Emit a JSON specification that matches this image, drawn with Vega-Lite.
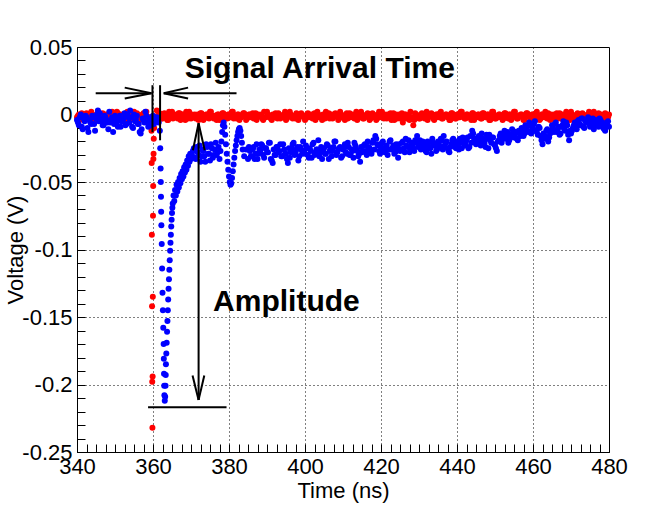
{
  "$schema": "https://vega.github.io/schema/vega-lite/v6.json",
  "width": 532,
  "height": 405,
  "autosize": "none",
  "padding": {"left": 77, "top": 47, "right": 55, "bottom": 55},
  "background": "white",
  "config": {
    "font": "Liberation Sans",
    "view": {"stroke": "#000", "strokeWidth": 1},
    "axis": {
      "labelFont": "Liberation Sans",
      "titleFont": "Liberation Sans",
      "labelFontSize": 22,
      "titleFontSize": 22,
      "titleFontWeight": "normal",
      "labelColor": "#000",
      "titleColor": "#000",
      "domainColor": "#000",
      "tickColor": "#000",
      "gridColor": "#000",
      "gridDash": [1, 3],
      "gridWidth": 1,
      "labelOverlap": false,
      "labelFlush": false,
      "labelBound": false
    }
  },
  "datasets": {
    "red": [
      {"t":340,"v":-0.002},{"t":340.5,"v":0},{"t":341,"v":-0.003},{"t":341.5,"v":-0.001},{"t":342,"v":-0.004},{"t":342.5,"v":0.001},{"t":343,"v":-0.002},{"t":343.5,"v":-0.003},{"t":344,"v":0},{"t":344.5,"v":-0.001},
      {"t":345,"v":-0.004},{"t":345.5,"v":0.002},{"t":346,"v":-0.002},{"t":346.5,"v":-0.001},{"t":347,"v":-0.003},{"t":347.5,"v":0},{"t":348,"v":-0.002},{"t":348.5,"v":0.001},{"t":349,"v":-0.004},{"t":349.5,"v":-0.001},
      {"t":350,"v":-0.002},{"t":350.5,"v":0.002},{"t":351,"v":-0.003},{"t":351.5,"v":0},{"t":352,"v":-0.001},{"t":352.5,"v":-0.004},{"t":353,"v":0.001},{"t":353.5,"v":-0.002},{"t":354,"v":-0.001},{"t":354.5,"v":-0.003},
      {"t":355,"v":0.002},{"t":355.5,"v":-0.002},{"t":356,"v":0},{"t":356.5,"v":-0.004},{"t":357,"v":-0.001},{"t":357.5,"v":0.001},{"t":358,"v":-0.003},{"t":358.5,"v":-0.002},{"t":359,"v":-0.006},{"t":359.4,"v":-0.005},
      {"t":359.6,"v":-0.012},{"t":359.65,"v":-0.036},{"t":359.7,"v":-0.089},{"t":359.75,"v":-0.142},{"t":359.8,"v":-0.198},{"t":359.85,"v":-0.232},{"t":359.9,"v":-0.194},{"t":359.95,"v":-0.135},{"t":360,"v":-0.075},{"t":360.05,"v":-0.053},
      {"t":360.1,"v":-0.033},{"t":360.15,"v":-0.029},{"t":360.2,"v":-0.018},{"t":360.3,"v":-0.01},{"t":360.5,"v":-0.004},
      {"t":361,"v":0.003},{"t":361.5,"v":-0.002},{"t":362,"v":0},{"t":362.5,"v":-0.003},{"t":363,"v":0.001},{"t":363.5,"v":-0.001},{"t":364,"v":-0.004},{"t":364.5,"v":0},{"t":365,"v":0.002},{"t":365.5,"v":-0.002},
      {"t":366,"v":-0.001},{"t":366.5,"v":-0.003},{"t":367,"v":0.001},{"t":367.5,"v":-0.002},{"t":368,"v":0},{"t":368.5,"v":-0.004},{"t":369,"v":-0.001},{"t":369.5,"v":0.002},{"t":370,"v":-0.003},{"t":370.5,"v":-0.001},
      {"t":371,"v":0},{"t":371.5,"v":-0.002},{"t":372,"v":-0.004},{"t":372.5,"v":0.001},{"t":373,"v":-0.001},{"t":373.5,"v":-0.003},{"t":374,"v":0},{"t":374.5,"v":-0.002},{"t":375,"v":0.002},{"t":375.5,"v":-0.001},
      {"t":376,"v":-0.003},{"t":376.5,"v":-0.001},{"t":377,"v":0},{"t":377.5,"v":-0.004},{"t":378,"v":-0.002},{"t":378.5,"v":0.001},{"t":379,"v":-0.001},{"t":379.5,"v":-0.003},{"t":380,"v":0},{"t":380.5,"v":-0.002},
      {"t":381,"v":0.002},{"t":381.5,"v":-0.001},{"t":382,"v":-0.003},{"t":382.5,"v":0},{"t":383,"v":-0.002},{"t":383.5,"v":-0.001},{"t":384,"v":0.001},{"t":384.5,"v":-0.004},{"t":385,"v":-0.002},{"t":385.5,"v":0},
      {"t":386,"v":-0.001},{"t":386.5,"v":-0.003},{"t":387,"v":0.001},{"t":387.5,"v":-0.002},{"t":388,"v":-0.001},{"t":388.5,"v":0},{"t":389,"v":-0.004},{"t":389.5,"v":-0.002},{"t":390,"v":0.002},{"t":390.5,"v":-0.001},
      {"t":391,"v":-0.003},{"t":391.5,"v":0},{"t":392,"v":-0.002},{"t":392.5,"v":-0.001},{"t":393,"v":0.001},{"t":393.5,"v":-0.003},{"t":394,"v":-0.002},{"t":394.5,"v":0},{"t":395,"v":-0.004},{"t":395.5,"v":-0.001},
      {"t":396,"v":0.002},{"t":396.5,"v":-0.002},{"t":397,"v":-0.001},{"t":397.5,"v":-0.003},{"t":398,"v":0},{"t":398.5,"v":-0.002},{"t":399,"v":0.001},{"t":399.5,"v":-0.001},{"t":400,"v":-0.004},{"t":400.5,"v":-0.002},
      {"t":401,"v":0},{"t":401.5,"v":-0.001},{"t":402,"v":-0.003},{"t":402.5,"v":0.001},{"t":403,"v":-0.002},{"t":403.5,"v":0},{"t":404,"v":-0.001},{"t":404.5,"v":-0.004},{"t":405,"v":-0.002},{"t":405.5,"v":0.002},
      {"t":406,"v":-0.001},{"t":406.5,"v":-0.003},{"t":407,"v":0},{"t":407.5,"v":-0.002},{"t":408,"v":0.001},{"t":408.5,"v":-0.001},{"t":409,"v":-0.003},{"t":409.5,"v":0},{"t":410,"v":-0.002},{"t":410.5,"v":-0.004},
      {"t":411,"v":0.001},{"t":411.5,"v":-0.001},{"t":412,"v":-0.002},{"t":412.5,"v":0},{"t":413,"v":-0.003},{"t":413.5,"v":0.002},{"t":414,"v":-0.001},{"t":414.5,"v":-0.002},{"t":415,"v":0},{"t":415.5,"v":-0.003},
      {"t":416,"v":-0.001},{"t":416.5,"v":0.001},{"t":417,"v":-0.004},{"t":417.5,"v":-0.002},{"t":418,"v":0},{"t":418.5,"v":-0.001},{"t":419,"v":-0.003},{"t":419.5,"v":0.002},{"t":420,"v":-0.002},{"t":420.5,"v":-0.001},
      {"t":421,"v":0},{"t":421.5,"v":-0.003},{"t":422,"v":-0.001},{"t":422.5,"v":0.001},{"t":423,"v":-0.002},{"t":423.5,"v":-0.004},{"t":424,"v":0},{"t":424.5,"v":-0.001},{"t":425,"v":-0.003},{"t":425.5,"v":0.001},
      {"t":426,"v":-0.002},{"t":426.5,"v":0},{"t":427,"v":-0.001},{"t":427.5,"v":-0.004},{"t":428,"v":-0.002},{"t":428.5,"v":-0.008},{"t":429,"v":0.001},{"t":429.5,"v":-0.002},{"t":430,"v":-0.003},{"t":430.5,"v":0},
      {"t":431,"v":-0.001},{"t":431.5,"v":-0.003},{"t":432,"v":0.002},{"t":432.5,"v":-0.002},{"t":433,"v":0},{"t":433.5,"v":-0.001},{"t":434,"v":-0.004},{"t":434.5,"v":0},{"t":435,"v":-0.002},{"t":435.5,"v":0.001},
      {"t":436,"v":-0.003},{"t":436.5,"v":-0.001},{"t":437,"v":0},{"t":437.5,"v":-0.002},{"t":438,"v":-0.004},{"t":438.5,"v":0.001},{"t":439,"v":-0.001},{"t":439.5,"v":-0.003},{"t":440,"v":0},{"t":440.5,"v":-0.002},
      {"t":441,"v":0.002},{"t":441.5,"v":-0.001},{"t":442,"v":-0.003},{"t":442.5,"v":0},{"t":443,"v":-0.002},{"t":443.5,"v":-0.001},{"t":444,"v":0.001},{"t":444.5,"v":-0.004},{"t":445,"v":-0.002},{"t":445.5,"v":0},
      {"t":446,"v":-0.001},{"t":446.5,"v":-0.003},{"t":447,"v":0.001},{"t":447.5,"v":-0.002},{"t":448,"v":0},{"t":448.5,"v":-0.004},{"t":449,"v":-0.001},{"t":449.5,"v":0.002},{"t":450,"v":-0.003},{"t":450.5,"v":-0.001},
      {"t":451,"v":0},{"t":451.5,"v":-0.002},{"t":452,"v":-0.004},{"t":452.5,"v":0.001},{"t":453,"v":-0.001},{"t":453.5,"v":-0.003},{"t":454,"v":0},{"t":454.5,"v":-0.002},{"t":455,"v":0.002},{"t":455.5,"v":-0.001},
      {"t":456,"v":-0.003},{"t":456.5,"v":-0.001},{"t":457,"v":0},{"t":457.5,"v":-0.004},{"t":458,"v":-0.002},{"t":458.5,"v":0.001},{"t":459,"v":-0.001},{"t":459.5,"v":-0.003},{"t":460,"v":0},{"t":460.5,"v":-0.002},
      {"t":461,"v":0.002},{"t":461.5,"v":-0.001},{"t":462,"v":-0.003},{"t":462.5,"v":0},{"t":463,"v":-0.002},{"t":463.5,"v":-0.001},{"t":464,"v":0.001},{"t":464.5,"v":-0.004},{"t":465,"v":-0.002},{"t":465.5,"v":0},
      {"t":466,"v":-0.001},{"t":466.5,"v":-0.003},{"t":467,"v":0.001},{"t":467.5,"v":-0.002},{"t":468,"v":-0.001},{"t":468.5,"v":0},{"t":469,"v":-0.004},{"t":469.5,"v":-0.002},{"t":470,"v":0.002},{"t":470.5,"v":-0.001},
      {"t":471,"v":-0.003},{"t":471.5,"v":0},{"t":472,"v":-0.002},{"t":472.5,"v":-0.001},{"t":473,"v":0.001},{"t":473.5,"v":-0.003},{"t":474,"v":-0.002},{"t":474.5,"v":0},{"t":475,"v":-0.004},{"t":475.5,"v":-0.001},
      {"t":476,"v":0.002},{"t":476.5,"v":-0.002},{"t":477,"v":-0.001},{"t":477.5,"v":-0.003},{"t":478,"v":0},{"t":478.5,"v":-0.002},{"t":479,"v":0.001},{"t":479.5,"v":-0.001},{"t":480,"v":0},
      {"t":340.25,"v":-0.001},{"t":340.75,"v":-0.004},{"t":341.25,"v":0.001},{"t":341.75,"v":-0.002},{"t":342.25,"v":-0.003},{"t":342.75,"v":0},{"t":343.25,"v":-0.001},{"t":343.75,"v":0.002},{"t":344.25,"v":-0.003},{"t":344.75,"v":-0.002},
      {"t":345.25,"v":0},{"t":345.75,"v":-0.003},{"t":346.25,"v":-0.001},{"t":346.75,"v":0.001},{"t":347.25,"v":-0.004},{"t":347.75,"v":-0.002},{"t":348.25,"v":0},{"t":348.75,"v":-0.001},{"t":349.25,"v":0.002},{"t":349.75,"v":-0.003},
      {"t":350.25,"v":-0.002},{"t":350.75,"v":0.001},{"t":351.25,"v":-0.001},{"t":351.75,"v":-0.004},{"t":352.25,"v":0},{"t":352.75,"v":-0.002},{"t":353.25,"v":0.002},{"t":353.75,"v":-0.003},{"t":354.25,"v":-0.001},{"t":354.75,"v":0},
      {"t":355.25,"v":-0.003},{"t":355.75,"v":0.001},{"t":356.25,"v":-0.002},{"t":356.75,"v":-0.001},{"t":357.25,"v":0},{"t":357.75,"v":-0.004},{"t":358.25,"v":0.002},{"t":358.75,"v":-0.002},
      {"t":361.25,"v":-0.001},{"t":361.75,"v":0.001},{"t":362.25,"v":-0.003},{"t":362.75,"v":-0.002},{"t":363.25,"v":0},{"t":363.75,"v":-0.004},{"t":364.25,"v":0.002},{"t":364.75,"v":-0.001},{"t":365.25,"v":-0.003},{"t":365.75,"v":0},
      {"t":366.25,"v":-0.002},{"t":366.75,"v":0.001},{"t":367.25,"v":-0.004},{"t":367.75,"v":0},{"t":368.25,"v":-0.001},{"t":368.75,"v":0.002},{"t":369.25,"v":-0.003},{"t":369.75,"v":-0.002},{"t":370.25,"v":0},{"t":370.75,"v":-0.001},
      {"t":371.25,"v":-0.003},{"t":371.75,"v":0},{"t":372.25,"v":-0.002},{"t":372.75,"v":0.001},{"t":373.25,"v":-0.004},{"t":373.75,"v":-0.001},{"t":374.25,"v":0},{"t":374.75,"v":-0.003},{"t":375.25,"v":0.002},{"t":375.75,"v":-0.002},
      {"t":376.25,"v":-0.001},{"t":376.75,"v":-0.004},{"t":377.25,"v":0},{"t":377.75,"v":-0.002},{"t":378.25,"v":0.001},{"t":378.75,"v":-0.003},{"t":379.25,"v":-0.001},{"t":379.75,"v":0},{"t":380.25,"v":-0.002},{"t":380.75,"v":0.002},
      {"t":381.25,"v":-0.003},{"t":381.75,"v":-0.001},{"t":382.25,"v":0},{"t":382.75,"v":-0.004},{"t":383.25,"v":-0.002},{"t":383.75,"v":0.001},{"t":384.25,"v":-0.001},{"t":384.75,"v":-0.003},{"t":385.25,"v":0},{"t":385.75,"v":-0.002},
      {"t":386.25,"v":0.001},{"t":386.75,"v":-0.002},{"t":387.25,"v":-0.004},{"t":387.75,"v":0},{"t":388.25,"v":-0.001},{"t":388.75,"v":-0.003},{"t":389.25,"v":0.002},{"t":389.75,"v":-0.002},{"t":390.25,"v":0},{"t":390.75,"v":-0.001},
      {"t":391.25,"v":-0.004},{"t":391.75,"v":-0.001},{"t":392.25,"v":0.001},{"t":392.75,"v":-0.003},{"t":393.25,"v":0},{"t":393.75,"v":-0.002},{"t":394.25,"v":-0.001},{"t":394.75,"v":0.002},{"t":395.25,"v":-0.003},{"t":395.75,"v":-0.001},
      {"t":396.25,"v":0},{"t":396.75,"v":-0.003},{"t":397.25,"v":-0.002},{"t":397.75,"v":0.001},{"t":398.25,"v":-0.004},{"t":398.75,"v":-0.001},{"t":399.25,"v":0},{"t":399.75,"v":-0.002},{"t":400.25,"v":-0.003},{"t":400.75,"v":0.001},
      {"t":401.25,"v":-0.002},{"t":401.75,"v":0},{"t":402.25,"v":-0.001},{"t":402.75,"v":-0.004},{"t":403.25,"v":0.002},{"t":403.75,"v":-0.002},{"t":404.25,"v":-0.001},{"t":404.75,"v":0},{"t":405.25,"v":-0.003},{"t":405.75,"v":-0.001},
      {"t":406.25,"v":0.001},{"t":406.75,"v":-0.002},{"t":407.25,"v":-0.003},{"t":407.75,"v":0},{"t":408.25,"v":-0.001},{"t":408.75,"v":-0.004},{"t":409.25,"v":0.002},{"t":409.75,"v":-0.001},{"t":410.25,"v":-0.002},{"t":410.75,"v":0},
      {"t":411.25,"v":-0.003},{"t":411.75,"v":0.001},{"t":412.25,"v":-0.001},{"t":412.75,"v":-0.002},{"t":413.25,"v":0},{"t":413.75,"v":-0.004},{"t":414.25,"v":-0.001},{"t":414.75,"v":0.002},{"t":415.25,"v":-0.003},{"t":415.75,"v":-0.002},
      {"t":416.25,"v":0},{"t":416.75,"v":-0.001},{"t":417.25,"v":-0.003},{"t":417.75,"v":0.001},{"t":418.25,"v":-0.002},{"t":418.75,"v":-0.004},{"t":419.25,"v":0},{"t":419.75,"v":-0.001},{"t":420.25,"v":0.002},{"t":420.75,"v":-0.003},
      {"t":421.25,"v":-0.001},{"t":421.75,"v":0},{"t":422.25,"v":-0.002},{"t":422.75,"v":-0.004},{"t":423.25,"v":0.001},{"t":423.75,"v":-0.001},{"t":424.25,"v":-0.003},{"t":424.75,"v":0},{"t":425.25,"v":-0.002},{"t":425.75,"v":-0.006},
      {"t":426.25,"v":0},{"t":426.75,"v":-0.003},{"t":427.25,"v":-0.001},{"t":427.75,"v":0.002},{"t":428.25,"v":-0.002},{"t":428.75,"v":-0.004},{"t":429.25,"v":0},{"t":429.75,"v":-0.001},{"t":430.25,"v":-0.003},{"t":430.75,"v":0.001},
      {"t":431.25,"v":-0.002},{"t":431.75,"v":0},{"t":432.25,"v":-0.004},{"t":432.75,"v":-0.001},{"t":433.25,"v":0.001},{"t":433.75,"v":-0.003},{"t":434.25,"v":-0.002},{"t":434.75,"v":0},{"t":435.25,"v":-0.001},{"t":435.75,"v":0.002},
      {"t":436.25,"v":-0.003},{"t":436.75,"v":-0.001},{"t":437.25,"v":0},{"t":437.75,"v":-0.002},{"t":438.25,"v":-0.004},{"t":438.75,"v":0.001},{"t":439.25,"v":-0.001},{"t":439.75,"v":-0.003},{"t":440.25,"v":0},{"t":440.75,"v":-0.002},
      {"t":441.25,"v":0.002},{"t":441.75,"v":-0.001},{"t":442.25,"v":-0.003},{"t":442.75,"v":0},{"t":443.25,"v":-0.002},{"t":443.75,"v":-0.004},{"t":444.25,"v":0.001},{"t":444.75,"v":-0.001},{"t":445.25,"v":-0.002},{"t":445.75,"v":0},
      {"t":446.25,"v":-0.003},{"t":446.75,"v":0.001},{"t":447.25,"v":-0.001},{"t":447.75,"v":-0.002},{"t":448.25,"v":0},{"t":448.75,"v":-0.004},{"t":449.25,"v":0.002},{"t":449.75,"v":-0.001},{"t":450.25,"v":-0.003},{"t":450.75,"v":-0.002},
      {"t":451.25,"v":0},{"t":451.75,"v":-0.001},{"t":452.25,"v":-0.003},{"t":452.75,"v":0.001},{"t":453.25,"v":-0.002},{"t":453.75,"v":0},{"t":454.25,"v":-0.004},{"t":454.75,"v":-0.001},{"t":455.25,"v":0.002},{"t":455.75,"v":-0.003},
      {"t":456.25,"v":-0.001},{"t":456.75,"v":0},{"t":457.25,"v":-0.002},{"t":457.75,"v":-0.004},{"t":458.25,"v":0.001},{"t":458.75,"v":-0.001},{"t":459.25,"v":-0.003},{"t":459.75,"v":0},{"t":460.25,"v":-0.002},{"t":460.75,"v":0.001},
      {"t":461.25,"v":-0.002},{"t":461.75,"v":-0.004},{"t":462.25,"v":0},{"t":462.75,"v":-0.001},{"t":463.25,"v":0.002},{"t":463.75,"v":-0.003},{"t":464.25,"v":-0.001},{"t":464.75,"v":0},{"t":465.25,"v":-0.002},{"t":465.75,"v":-0.004},
      {"t":466.25,"v":0.001},{"t":466.75,"v":-0.001},{"t":467.25,"v":-0.003},{"t":467.75,"v":0},{"t":468.25,"v":-0.002},{"t":468.75,"v":0.002},{"t":469.25,"v":-0.001},{"t":469.75,"v":-0.004},{"t":470.25,"v":0},{"t":470.75,"v":-0.002},
      {"t":471.25,"v":-0.001},{"t":471.75,"v":0.001},{"t":472.25,"v":-0.003},{"t":472.75,"v":-0.002},{"t":473.25,"v":0},{"t":473.75,"v":-0.001},{"t":474.25,"v":-0.004},{"t":474.75,"v":0.002},{"t":475.25,"v":-0.002},{"t":475.75,"v":-0.001},
      {"t":476.25,"v":0},{"t":476.75,"v":-0.003},{"t":477.25,"v":0.001},{"t":477.75,"v":-0.002},{"t":478.25,"v":-0.001},{"t":478.75,"v":-0.004},{"t":479.25,"v":0},{"t":479.75,"v":-0.002}
    ],
    "blue": [
      {"t":340,"v":-0.004},{"t":340.5,"v":-0.008},{"t":341,"v":0},{"t":341.5,"v":-0.011},{"t":342,"v":-0.005},{"t":342.5,"v":-0.002},{"t":343,"v":-0.013},{"t":343.5,"v":-0.006},{"t":344,"v":-0.001},{"t":344.5,"v":-0.007},
      {"t":345,"v":-0.003},{"t":345.5,"v":0.003},{"t":346,"v":0.001},{"t":346.5,"v":-0.005},{"t":347,"v":-0.008},{"t":347.5,"v":-0.002},{"t":348,"v":-0.006},{"t":348.5,"v":0.002},{"t":349,"v":-0.004},{"t":349.5,"v":-0.013},
      {"t":350,"v":-0.001},{"t":350.5,"v":-0.006},{"t":351,"v":-0.003},{"t":351.5,"v":-0.009},{"t":352,"v":-0.004},{"t":352.5,"v":0.001},{"t":353,"v":-0.007},{"t":353.5,"v":-0.002},{"t":354,"v":0.003},{"t":354.5,"v":-0.009},
      {"t":355,"v":0},{"t":355.5,"v":-0.004},{"t":356,"v":-0.007},{"t":356.5,"v":-0.013},{"t":357,"v":-0.011},{"t":357.5,"v":-0.004},{"t":358,"v":0.002},{"t":358.5,"v":-0.006},{"t":359,"v":-0.003},{"t":359.5,"v":-0.008},
      {"t":360,"v":-0.001},{"t":360.5,"v":-0.005},{"t":361,"v":-0.002},{"t":361.5,"v":-0.006},
      {"t":340.25,"v":-0.006},{"t":340.75,"v":-0.002},{"t":341.25,"v":-0.009},{"t":341.75,"v":-0.003},{"t":342.25,"v":-0.001},{"t":342.75,"v":-0.01},{"t":343.25,"v":-0.004},{"t":343.75,"v":-0.007},{"t":344.25,"v":-0.002},{"t":344.75,"v":-0.012},
      {"t":345.25,"v":0},{"t":345.75,"v":-0.005},{"t":346.25,"v":-0.003},{"t":346.75,"v":-0.008},{"t":347.25,"v":-0.001},{"t":347.75,"v":-0.004},{"t":348.25,"v":-0.011},{"t":348.75,"v":-0.006},{"t":349.25,"v":-0.002},{"t":349.75,"v":-0.007},
      {"t":350.25,"v":-0.004},{"t":350.75,"v":-0.009},{"t":351.25,"v":-0.001},{"t":351.75,"v":-0.005},{"t":352.25,"v":-0.003},{"t":352.75,"v":-0.008},{"t":353.25,"v":0},{"t":353.75,"v":-0.006},{"t":354.25,"v":-0.002},{"t":354.75,"v":-0.01},
      {"t":355.25,"v":-0.005},{"t":355.75,"v":-0.001},{"t":356.25,"v":-0.007},{"t":356.75,"v":-0.014},{"t":357.25,"v":-0.003},{"t":357.75,"v":-0.006},{"t":358.25,"v":-0.001},{"t":358.75,"v":-0.009},{"t":359.25,"v":-0.004},{"t":359.75,"v":-0.002},
      {"t":360.25,"v":-0.007},{"t":360.75,"v":-0.003},{"t":361.25,"v":-0.005},
      {"t":361.8,"v":-0.012},{"t":361.9,"v":-0.025},{"t":362,"v":-0.04},{"t":362.05,"v":-0.05},{"t":362.1,"v":-0.061},{"t":362.15,"v":-0.072},{"t":362.2,"v":-0.082},{"t":362.3,"v":-0.096},{"t":362.4,"v":-0.114},{"t":362.5,"v":-0.132},
      {"t":362.6,"v":-0.145},{"t":362.7,"v":-0.158},{"t":362.8,"v":-0.17},{"t":362.85,"v":-0.181},{"t":362.9,"v":-0.192},{"t":362.95,"v":-0.201},{"t":363,"v":-0.208},{"t":363.1,"v":-0.212},{"t":363.2,"v":-0.209},{"t":363.3,"v":-0.201},
      {"t":363.35,"v":-0.193},{"t":363.4,"v":-0.185},{"t":363.5,"v":-0.177},{"t":363.6,"v":-0.169},{"t":363.7,"v":-0.161},{"t":363.8,"v":-0.153},{"t":363.9,"v":-0.145},{"t":364,"v":-0.137},{"t":364.1,"v":-0.129},{"t":364.2,"v":-0.122},
      {"t":364.3,"v":-0.115},{"t":364.4,"v":-0.108},{"t":364.5,"v":-0.101},{"t":364.6,"v":-0.095},{"t":364.7,"v":-0.089},{"t":364.8,"v":-0.083},{"t":364.9,"v":-0.078},{"t":365,"v":-0.073},{"t":365.1,"v":-0.069},
      {"t":365.2,"v":-0.066},{"t":365.4,"v":-0.06},{"t":365.6,"v":-0.064},{"t":365.8,"v":-0.056},{"t":366,"v":-0.06},{"t":366.2,"v":-0.052},{"t":366.4,"v":-0.057},{"t":366.6,"v":-0.05},{"t":366.8,"v":-0.054},{"t":367,"v":-0.047},
      {"t":367.2,"v":-0.051},{"t":367.4,"v":-0.044},{"t":367.6,"v":-0.048},{"t":367.8,"v":-0.042},{"t":368,"v":-0.046},{"t":368.2,"v":-0.039},{"t":368.4,"v":-0.043},{"t":368.6,"v":-0.037},{"t":368.8,"v":-0.041},{"t":369,"v":-0.034},
      {"t":369.2,"v":-0.038},{"t":369.4,"v":-0.031},{"t":369.6,"v":-0.035},{"t":369.8,"v":-0.029},{"t":370,"v":-0.033},
      {"t":370.5,"v":-0.027},{"t":371,"v":-0.032},{"t":371.5,"v":-0.024},{"t":372,"v":-0.03},{"t":372.5,"v":-0.035},{"t":373,"v":-0.026},{"t":373.5,"v":-0.031},{"t":374,"v":-0.022},{"t":374.5,"v":-0.029},{"t":375,"v":-0.034},
      {"t":375.5,"v":-0.025},{"t":376,"v":-0.03},{"t":376.5,"v":-0.021},{"t":377,"v":-0.028},{"t":377.5,"v":-0.033},{"t":378,"v":-0.02},
      {"t":370.25,"v":-0.03},{"t":370.75,"v":-0.025},{"t":371.25,"v":-0.033},{"t":371.75,"v":-0.028},{"t":372.25,"v":-0.023},{"t":372.75,"v":-0.031},{"t":373.25,"v":-0.027},{"t":373.75,"v":-0.035},
      {"t":374.25,"v":-0.024},{"t":374.75,"v":-0.029},{"t":375.25,"v":-0.022},{"t":375.75,"v":-0.032},{"t":376.25,"v":-0.026},{"t":376.75,"v":-0.03},{"t":377.25,"v":-0.024},{"t":377.75,"v":-0.027},
      {"t":378.2,"v":-0.013},{"t":378.4,"v":-0.008},{"t":378.6,"v":-0.006},{"t":378.8,"v":-0.009},{"t":379,"v":-0.015},{"t":379.2,"v":-0.022},{"t":379.4,"v":-0.029},{"t":379.6,"v":-0.035},{"t":379.8,"v":-0.041},{"t":380,"v":-0.046},
      {"t":380.2,"v":-0.05},{"t":380.4,"v":-0.052},{"t":380.6,"v":-0.051},{"t":380.8,"v":-0.047},{"t":381,"v":-0.042},{"t":381.2,"v":-0.037},{"t":381.4,"v":-0.032},{"t":381.6,"v":-0.027},{"t":381.8,"v":-0.023},{"t":382,"v":-0.019},
      {"t":382.2,"v":-0.016},{"t":382.4,"v":-0.013},{"t":382.6,"v":-0.011},{"t":382.8,"v":-0.01},{"t":383,"v":-0.012},{"t":383.2,"v":-0.016},{"t":383.4,"v":-0.021},{"t":383.6,"v":-0.026},{"t":384,"v":-0.031},{"t":384.5,"v":-0.026},
      {"t":385,"v":-0.033},{"t":385.5,"v":-0.027},{"t":386,"v":-0.031},{"t":386.5,"v":-0.024},{"t":387,"v":-0.029},{"t":387.5,"v":-0.033},{"t":388,"v":-0.026},{"t":388.5,"v":-0.022},{"t":389,"v":-0.03},{"t":389.5,"v":-0.025},
      {"t":390,"v":-0.028},{"t":390.5,"v":-0.021},{"t":391,"v":-0.033},{"t":391.5,"v":-0.036},{"t":392,"v":-0.03},{"t":392.5,"v":-0.024},{"t":393,"v":-0.028},{"t":393.5,"v":-0.022},{"t":394,"v":-0.031},{"t":394.5,"v":-0.026},
      {"t":395,"v":-0.029},{"t":395.5,"v":-0.036},{"t":396,"v":-0.032},{"t":396.5,"v":-0.025},{"t":397,"v":-0.021},{"t":397.5,"v":-0.028},{"t":398,"v":-0.024},{"t":398.5,"v":-0.031},{"t":399,"v":-0.026},{"t":399.5,"v":-0.02},
      {"t":400,"v":-0.029},{"t":400.5,"v":-0.025},{"t":401,"v":-0.032},{"t":401.5,"v":-0.027},{"t":402,"v":-0.022},{"t":402.5,"v":-0.03},{"t":403,"v":-0.026},{"t":403.5,"v":-0.019},{"t":404,"v":-0.028},{"t":404.5,"v":-0.033},
      {"t":405,"v":-0.025},{"t":405.5,"v":-0.029},{"t":406,"v":-0.023},{"t":406.5,"v":-0.027},{"t":407,"v":-0.031},{"t":407.5,"v":-0.024},{"t":408,"v":-0.02},{"t":408.5,"v":-0.028},{"t":409,"v":-0.025},{"t":409.5,"v":-0.032},
      {"t":410,"v":-0.026},{"t":410.5,"v":-0.022},{"t":411,"v":-0.029},{"t":411.5,"v":-0.024},{"t":412,"v":-0.03},{"t":412.5,"v":-0.027},{"t":413,"v":-0.021},{"t":413.5,"v":-0.026},{"t":414,"v":-0.031},{"t":414.5,"v":-0.035},
      {"t":415,"v":-0.028},{"t":415.5,"v":-0.023},{"t":416,"v":-0.027},{"t":416.5,"v":-0.02},{"t":417,"v":-0.025},{"t":417.5,"v":-0.029},{"t":418,"v":-0.019},{"t":418.5,"v":-0.016},{"t":419,"v":-0.022},{"t":419.5,"v":-0.027},
      {"t":420,"v":-0.024},{"t":420.5,"v":-0.02},{"t":421,"v":-0.028},{"t":421.5,"v":-0.023},{"t":422,"v":-0.026},{"t":422.5,"v":-0.019},{"t":423,"v":-0.025},{"t":423.5,"v":-0.029},{"t":424,"v":-0.022},{"t":424.5,"v":-0.032},
      {"t":425,"v":-0.027},{"t":425.5,"v":-0.021},{"t":426,"v":-0.025},{"t":426.5,"v":-0.018},{"t":427,"v":-0.024},{"t":427.5,"v":-0.028},{"t":428,"v":-0.021},{"t":428.5,"v":-0.025},{"t":429,"v":-0.019},{"t":429.5,"v":-0.016},
      {"t":430,"v":-0.022},{"t":430.5,"v":-0.026},{"t":431,"v":-0.02},{"t":431.5,"v":-0.024},{"t":432,"v":-0.028},{"t":432.5,"v":-0.021},{"t":433,"v":-0.025},{"t":433.5,"v":-0.018},{"t":434,"v":-0.023},{"t":434.5,"v":-0.027},
      {"t":435,"v":-0.02},{"t":435.5,"v":-0.024},{"t":436,"v":-0.019},{"t":436.5,"v":-0.016},{"t":437,"v":-0.021},{"t":437.5,"v":-0.025},{"t":438,"v":-0.028},{"t":438.5,"v":-0.022},{"t":439,"v":-0.018},{"t":439.5,"v":-0.024},
      {"t":440,"v":-0.02},{"t":440.5,"v":-0.026},{"t":441,"v":-0.021},{"t":441.5,"v":-0.017},{"t":442,"v":-0.023},{"t":442.5,"v":-0.019},{"t":443,"v":-0.025},{"t":443.5,"v":-0.016},{"t":444,"v":-0.012},{"t":444.5,"v":-0.018},
      {"t":445,"v":-0.022},{"t":445.5,"v":-0.017},{"t":446,"v":-0.021},{"t":446.5,"v":-0.014},{"t":447,"v":-0.019},{"t":447.5,"v":-0.024},{"t":448,"v":-0.018},{"t":448.5,"v":-0.015},{"t":449,"v":-0.021},{"t":449.5,"v":-0.017},
      {"t":450,"v":-0.023},{"t":450.5,"v":-0.027},{"t":451,"v":-0.019},{"t":451.5,"v":-0.014},{"t":452,"v":-0.018},{"t":452.5,"v":-0.012},{"t":453,"v":-0.016},{"t":453.5,"v":-0.021},{"t":454,"v":-0.015},{"t":454.5,"v":-0.011},
      {"t":455,"v":-0.017},{"t":455.5,"v":-0.013},{"t":456,"v":-0.019},{"t":456.5,"v":-0.014},{"t":457,"v":-0.01},{"t":457.5,"v":-0.016},{"t":458,"v":-0.008},{"t":458.5,"v":-0.012},{"t":459,"v":-0.006},{"t":459.5,"v":-0.014},
      {"t":460,"v":-0.01},{"t":460.5,"v":-0.005},{"t":461,"v":-0.013},{"t":461.5,"v":-0.009},{"t":462,"v":-0.016},{"t":462.5,"v":-0.022},{"t":463,"v":-0.018},{"t":463.5,"v":-0.012},{"t":464,"v":-0.02},{"t":464.5,"v":-0.014},
      {"t":465,"v":-0.008},{"t":465.5,"v":-0.013},{"t":466,"v":-0.006},{"t":466.5,"v":-0.011},{"t":467,"v":-0.015},{"t":467.5,"v":-0.009},{"t":468,"v":-0.005},{"t":468.5,"v":-0.012},{"t":469,"v":-0.008},{"t":469.5,"v":-0.019},
      {"t":470,"v":-0.014},{"t":470.5,"v":-0.01},{"t":471,"v":-0.006},{"t":471.5,"v":-0.011},{"t":472,"v":-0.004},{"t":472.5,"v":-0.008},{"t":473,"v":-0.003},{"t":473.5,"v":-0.01},{"t":474,"v":-0.006},{"t":474.5,"v":-0.002},
      {"t":475,"v":-0.009},{"t":475.5,"v":-0.005},{"t":476,"v":-0.011},{"t":476.5,"v":-0.004},{"t":477,"v":-0.008},{"t":477.5,"v":-0.003},{"t":478,"v":-0.007},{"t":478.5,"v":-0.01},{"t":479,"v":-0.012},{"t":479.5,"v":-0.006},
      {"t":480,"v":-0.009},
      {"t":385.25,"v":-0.024},{"t":385.75,"v":-0.031},{"t":386.25,"v":-0.026},{"t":386.75,"v":-0.033},{"t":387.25,"v":-0.022},{"t":387.75,"v":-0.029},{"t":388.25,"v":-0.027},{"t":388.75,"v":-0.023},{"t":389.25,"v":-0.032},{"t":389.75,"v":-0.025},
      {"t":390.25,"v":-0.028},{"t":390.75,"v":-0.021},{"t":391.25,"v":-0.034},{"t":391.75,"v":-0.026},{"t":392.25,"v":-0.03},{"t":392.75,"v":-0.024},{"t":393.25,"v":-0.027},{"t":393.75,"v":-0.031},{"t":394.25,"v":-0.022},{"t":394.75,"v":-0.029},
      {"t":395.25,"v":-0.033},{"t":395.75,"v":-0.025},{"t":396.25,"v":-0.028},{"t":396.75,"v":-0.022},{"t":397.25,"v":-0.03},{"t":397.75,"v":-0.026},{"t":398.25,"v":-0.034},{"t":398.75,"v":-0.024},{"t":399.25,"v":-0.029},{"t":399.75,"v":-0.027},
      {"t":400.25,"v":-0.023},{"t":400.75,"v":-0.03},{"t":401.25,"v":-0.025},{"t":401.75,"v":-0.032},{"t":402.25,"v":-0.021},{"t":402.75,"v":-0.028},{"t":403.25,"v":-0.026},{"t":403.75,"v":-0.031},{"t":404.25,"v":-0.024},{"t":404.75,"v":-0.027},
      {"t":405.25,"v":-0.029},{"t":405.75,"v":-0.022},{"t":406.25,"v":-0.033},{"t":406.75,"v":-0.025},{"t":407.25,"v":-0.027},{"t":407.75,"v":-0.02},{"t":408.25,"v":-0.03},{"t":408.75,"v":-0.026},{"t":409.25,"v":-0.024},{"t":409.75,"v":-0.031},
      {"t":410.25,"v":-0.025},{"t":410.75,"v":-0.028},{"t":411.25,"v":-0.021},{"t":411.75,"v":-0.03},{"t":412.25,"v":-0.026},{"t":412.75,"v":-0.032},{"t":413.25,"v":-0.023},{"t":413.75,"v":-0.027},{"t":414.25,"v":-0.029},{"t":414.75,"v":-0.024},
      {"t":415.25,"v":-0.027},{"t":415.75,"v":-0.022},{"t":416.25,"v":-0.03},{"t":416.75,"v":-0.024},{"t":417.25,"v":-0.028},{"t":417.75,"v":-0.021},{"t":418.25,"v":-0.026},{"t":418.75,"v":-0.018},{"t":419.25,"v":-0.023},{"t":419.75,"v":-0.029},
      {"t":420.25,"v":-0.021},{"t":420.75,"v":-0.027},{"t":421.25,"v":-0.024},{"t":421.75,"v":-0.03},{"t":422.25,"v":-0.02},{"t":422.75,"v":-0.026},{"t":423.25,"v":-0.023},{"t":423.75,"v":-0.028},{"t":424.25,"v":-0.025},{"t":424.75,"v":-0.022},
      {"t":425.25,"v":-0.026},{"t":425.75,"v":-0.02},{"t":426.25,"v":-0.028},{"t":426.75,"v":-0.023},{"t":427.25,"v":-0.019},{"t":427.75,"v":-0.025},{"t":428.25,"v":-0.022},{"t":428.75,"v":-0.027},{"t":429.25,"v":-0.021},{"t":429.75,"v":-0.024},
      {"t":430.25,"v":-0.019},{"t":430.75,"v":-0.025},{"t":431.25,"v":-0.022},{"t":431.75,"v":-0.027},{"t":432.25,"v":-0.02},{"t":432.75,"v":-0.024},{"t":433.25,"v":-0.029},{"t":433.75,"v":-0.021},{"t":434.25,"v":-0.023},{"t":434.75,"v":-0.026},
      {"t":435.25,"v":-0.022},{"t":435.75,"v":-0.018},{"t":436.25,"v":-0.026},{"t":436.75,"v":-0.023},{"t":437.25,"v":-0.02},{"t":437.75,"v":-0.027},{"t":438.25,"v":-0.024},{"t":438.75,"v":-0.019},{"t":439.25,"v":-0.021},{"t":439.75,"v":-0.025},
      {"t":440.25,"v":-0.023},{"t":440.75,"v":-0.018},{"t":441.25,"v":-0.025},{"t":441.75,"v":-0.02},{"t":442.25,"v":-0.022},{"t":442.75,"v":-0.017},{"t":443.25,"v":-0.024},{"t":443.75,"v":-0.021},{"t":444.25,"v":-0.014},{"t":444.75,"v":-0.019},
      {"t":445.25,"v":-0.02},{"t":445.75,"v":-0.016},{"t":446.25,"v":-0.023},{"t":446.75,"v":-0.018},{"t":447.25,"v":-0.021},{"t":447.75,"v":-0.015},{"t":448.25,"v":-0.025},{"t":448.75,"v":-0.019},{"t":449.25,"v":-0.017},{"t":449.75,"v":-0.022},
      {"t":450.25,"v":-0.025},{"t":450.75,"v":-0.02},{"t":451.25,"v":-0.016},{"t":451.75,"v":-0.021},{"t":452.25,"v":-0.014},{"t":452.75,"v":-0.018},{"t":453.25,"v":-0.013},{"t":453.75,"v":-0.019},{"t":454.25,"v":-0.016},{"t":454.75,"v":-0.012},
      {"t":455.25,"v":-0.015},{"t":455.75,"v":-0.018},{"t":456.25,"v":-0.012},{"t":456.75,"v":-0.016},{"t":457.25,"v":-0.011},{"t":457.75,"v":-0.014},{"t":458.25,"v":-0.009},{"t":458.75,"v":-0.013},{"t":459.25,"v":-0.008},{"t":459.75,"v":-0.011},
      {"t":460.25,"v":-0.007},{"t":460.75,"v":-0.012},{"t":461.25,"v":-0.015},{"t":461.75,"v":-0.01},{"t":462.25,"v":-0.019},{"t":462.75,"v":-0.014},{"t":463.25,"v":-0.016},{"t":463.75,"v":-0.011},{"t":464.25,"v":-0.017},{"t":464.75,"v":-0.012},
      {"t":465.25,"v":-0.01},{"t":465.75,"v":-0.007},{"t":466.25,"v":-0.013},{"t":466.75,"v":-0.009},{"t":467.25,"v":-0.014},{"t":467.75,"v":-0.008},{"t":468.25,"v":-0.011},{"t":468.75,"v":-0.006},{"t":469.25,"v":-0.015},{"t":469.75,"v":-0.012},
      {"t":470.25,"v":-0.012},{"t":470.75,"v":-0.008},{"t":471.25,"v":-0.009},{"t":471.75,"v":-0.005},{"t":472.25,"v":-0.007},{"t":472.75,"v":-0.003},{"t":473.25,"v":-0.009},{"t":473.75,"v":-0.005},{"t":474.25,"v":-0.004},{"t":474.75,"v":-0.007},
      {"t":475.25,"v":-0.006},{"t":475.75,"v":-0.003},{"t":476.25,"v":-0.008},{"t":476.75,"v":-0.005},{"t":477.25,"v":-0.009},{"t":477.75,"v":-0.004},{"t":478.25,"v":-0.006},{"t":478.75,"v":-0.011},{"t":479.25,"v":-0.008},{"t":479.75,"v":-0.005}
    ],
    "lines": [
      {"t":344.92,"v":0.0158,"t2":359.59,"v2":0.0158},
      {"t":352.56,"v":0.0199,"t2":359.59,"v2":0.0158},
      {"t":352.56,"v":0.0119,"t2":359.59,"v2":0.0158},
      {"t":362.83,"v":0.0158,"t2":381.98,"v2":0.0158},
      {"t":369.23,"v":0.0199,"t2":362.83,"v2":0.0158},
      {"t":369.23,"v":0.0119,"t2":362.83,"v2":0.0158},
      {"t":359.86,"v":0.0217,"t2":359.86,"v2":-0.0131},
      {"t":361.86,"v":0.0217,"t2":361.86,"v2":-0.0191},
      {"t":372.0,"v":-0.0065,"t2":372.0,"v2":-0.2114},
      {"t":370.5,"v":-0.0265,"t2":372.0,"v2":-0.0065},
      {"t":373.6,"v":-0.0265,"t2":372.0,"v2":-0.0065},
      {"t":370.4,"v":-0.1934,"t2":372.0,"v2":-0.2114},
      {"t":373.5,"v":-0.1934,"t2":372.0,"v2":-0.2114},
      {"t":358.7,"v":-0.2169,"t2":379.35,"v2":-0.2169}
    ],
    "notes": [
      {"t":368.36,"v":0.0267,"label":"Signal Arrival Time"},
      {"t":375.82,"v":-0.1452,"label":"Amplitude"}
    ]
  },
  "encoding": {
    "x": {
      "field": "t",
      "type": "quantitative",
      "scale": {"domain": [340, 480], "nice": false, "zero": false},
      "axis": {
        "title": "Time (ns)",
        "titleFontSize": 22,
        "titlePadding": 3,
        "labelFontSize": 22,
        "values": [340,342.5,345,347.5,350,352.5,355,357.5,360,362.5,365,367.5,370,372.5,375,377.5,380,382.5,385,387.5,390,392.5,395,397.5,400,402.5,405,407.5,410,412.5,415,417.5,420,422.5,425,427.5,430,432.5,435,437.5,440,442.5,445,447.5,450,452.5,455,457.5,460,462.5,465,467.5,470,472.5,475,477.5,480],
        "labelExpr": "datum.value % 20 === 0 ? '' + datum.value : ''",
        "ticks": true,
        "tickSize": -8,
        "tickWidth": 1,
        "labelPadding": 12,
        "grid": true,
        "gridOpacity": {"condition": {"test": "datum.value % 20 === 0 && datum.value > 341 && datum.value < 479", "value": 1}, "value": 0}
      }
    },
    "y": {
      "field": "v",
      "type": "quantitative",
      "scale": {"domain": [-0.25, 0.05], "nice": false, "zero": false},
      "axis": {
        "title": "Voltage (V)",
        "titleFontSize": 22,
        "titlePadding": -6,
        "labelFontSize": 22,
        "values": [-0.25,-0.24,-0.23,-0.22,-0.21,-0.2,-0.19,-0.18,-0.17,-0.16,-0.15,-0.14,-0.13,-0.12,-0.11,-0.1,-0.09,-0.08,-0.07,-0.06,-0.05,-0.04,-0.03,-0.02,-0.01,0,0.01,0.02,0.03,0.04,0.05],
        "labelExpr": "abs(round(datum.value * 100)) % 5 === 0 ? '' + round(datum.value * 100) / 100 : ''",
        "ticks": true,
        "tickSize": -8,
        "tickWidth": 1,
        "labelPadding": 13,
        "grid": true,
        "gridOpacity": {"condition": {"test": "abs(round(datum.value * 100)) % 5 === 0 && datum.value > -0.245 && datum.value < 0.045", "value": 1}, "value": 0}
      }
    }
  },
  "layer": [
    {
      "data": {"name": "red"},
      "mark": {"type": "circle", "size": 36, "opacity": 1, "color": "#ff0000"}
    },
    {
      "data": {"name": "blue"},
      "mark": {"type": "circle", "size": 36, "opacity": 1, "color": "#0000ff"}
    },
    {
      "data": {"name": "lines"},
      "mark": {"type": "rule", "color": "#000", "strokeWidth": 2},
      "encoding": {
        "x2": {"field": "t2"},
        "y2": {"field": "v2"}
      }
    },
    {
      "data": {"name": "notes"},
      "mark": {"type": "text", "align": "left", "baseline": "alphabetic", "font": "Liberation Sans", "fontWeight": "bold", "fontSize": 30, "color": "#000"},
      "encoding": {
        "text": {"field": "label"}
      }
    }
  ]
}
